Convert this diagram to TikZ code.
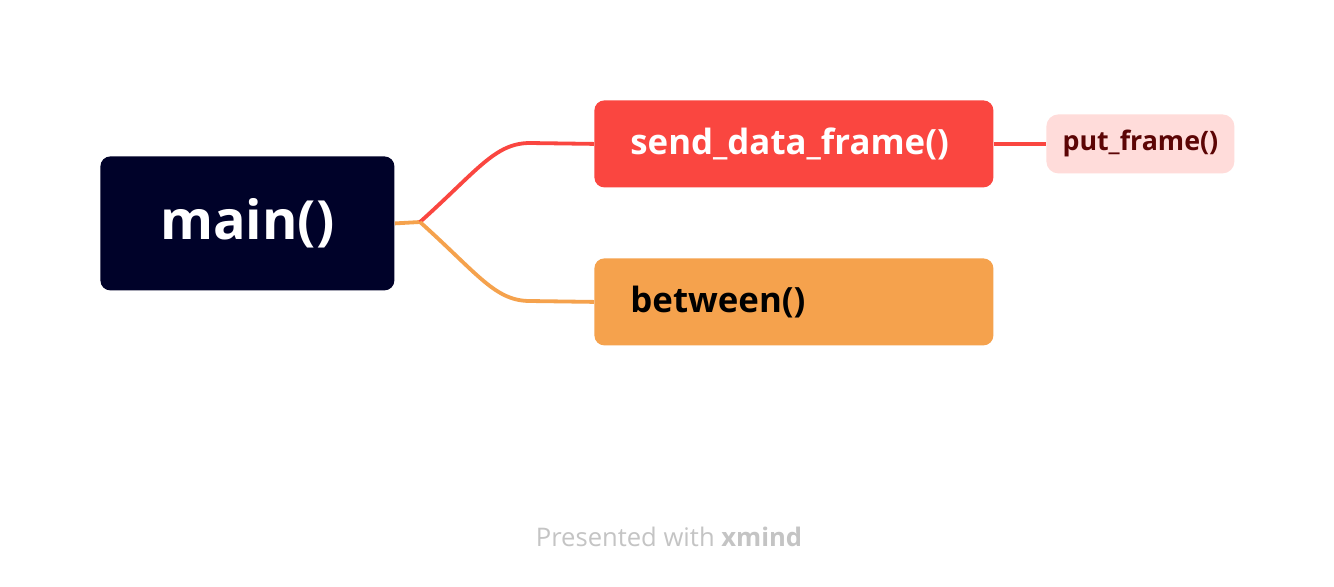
\documentclass[tikz,border=0pt]{standalone}
\usepackage{fontspec}
\setmainfont{Open Sans}
\usepackage{tikz}

\definecolor{mainnavy}{HTML}{000229}
\definecolor{topicred}{HTML}{FA4640}
\definecolor{topicorange}{HTML}{F5A24D}
\definecolor{subpink}{HTML}{FFDCDA}
\definecolor{subtext}{HTML}{5C0505}
\definecolor{footgray}{HTML}{C4C4C4}

\tikzset{
  rootbox/.style={fill=mainnavy,text=white,rounded corners=5pt,anchor=north west,
    minimum width=147pt,minimum height=67pt,inner sep=0pt,
    font=\bfseries\fontsize{27}{32}\selectfont},
  topicbox/.style={rounded corners=5pt,anchor=north west,
    minimum width=199.5pt,minimum height=43.5pt,text width=163.5pt,align=left,
    inner xsep=18pt,inner ysep=0pt,font=\bfseries\fontsize{17.4}{21}\selectfont},
  subbox/.style={fill=subpink,text=subtext,rounded corners=6pt,anchor=north west,
    minimum width=94pt,minimum height=29.5pt,inner sep=0pt,
    font=\bfseries\fontsize{13.4}{16}\selectfont},
  branch/.style={line width=1.9pt}
}

\begin{document}
\begin{tikzpicture}[x=.5pt,y=-.5pt]
\path[use as bounding box,fill=white] (0,0) rectangle (1334,586);
\node[rootbox] (root) at (100,156) {main()};
\node[topicbox,fill=topicred,text=white] (send) at (594,100) {send\_data\_frame()};
\node[topicbox,fill=topicorange,text=black] (betw) at (594,258) {between()};
\node[subbox] (put) at (1046,114) {put\_frame()};
\coordinate (fork) at (420,222);

\draw[branch,topicorange] (root.east) -- (fork);
\draw[branch,topicred] (fork) .. controls (478,170) and (495,143) .. (530,143) -- (send.west);
\draw[branch,topicorange] (fork) .. controls (478,274) and (495,301) .. (530,301) -- (betw.west);
\draw[branch,topicred] (send.east) -- (put.west);

\node[text=footgray,font=\fontsize{12.8}{15}\selectfont] (credit) at (669,537) {Presented with \textbf{xmind}};
\end{tikzpicture}
\end{document}
